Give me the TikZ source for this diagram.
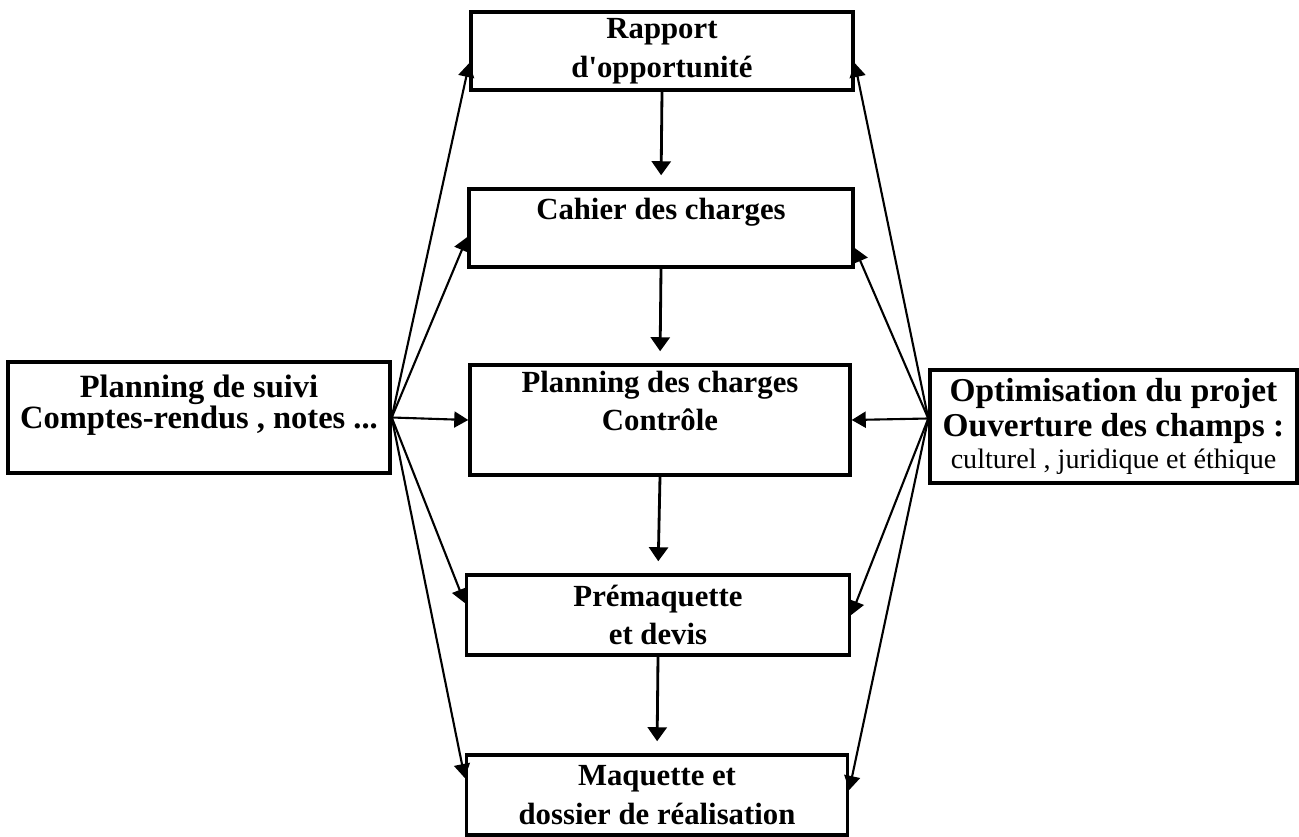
\documentclass[tikz,border=0pt]{standalone}
\usepackage{fontspec}
\setmainfont{Liberation Serif}
\usetikzlibrary{arrows.meta,calc}

\begin{document}
\begin{tikzpicture}[x=0.02cm,y=-0.02cm,
  box/.style={draw,line width=2pt,align=center,inner sep=1pt,font=\bfseries\fontsize{17.5}{22}\selectfont},
  down/.style={line width=1.6pt,-{Triangle[length=0.28cm,width=0.38cm]},shorten >=0.24cm},
  fan/.style={line width=1.2pt,-{Triangle[length=0.28cm,width=0.32cm]}}]
  \useasboundingbox (0,0) rectangle (1299,837);
  \node[box,minimum width=7.64cm,minimum height=1.56cm] (rap) at (662,51) {Rapport\\d\textquotesingle opportunité};
  \node[box,minimum width=7.68cm,minimum height=1.56cm] (cah) at (661,228) {Cahier des charges\\\mbox{}};
  \node[box,minimum width=7.6cm,minimum height=2.2cm] (pdc) at (660,420) {Planning des charges\\Contrôle\\\mbox{}};
  \node[box,minimum width=7.66cm,minimum height=1.6cm] (pre) at (658,615) {Prémaquette\\et devis};
  \node[box,minimum width=7.62cm,minimum height=1.6cm] (maq) at (657,795) {Maquette et\\dossier de réalisation};
  \node[box,minimum width=7.64cm,minimum height=2.22cm,font=\bfseries\fontsize{18.5}{18}\selectfont] (suivi) at (199,417.5)
    {Planning de suivi\\Comptes-rendus , notes ...\\\mbox{}};
  \node[box,minimum width=7.34cm,minimum height=2.26cm,font=\bfseries\fontsize{19}{20}\selectfont] (opt) at (1113.5,426.5)
    {Optimisation du projet\\Ouverture des champs :\\[-2pt]{\mdseries\fontsize{16}{17.6}\selectfont culturel , juridique et éthique}};
  \coordinate (rf) at ($(opt.west)+(0,-8)$);
  \draw[down] (rap.south) -- (cah.north);
  \draw[down] (cah.south) -- (pdc.north);
  \draw[down] (pdc.south) -- (pre.north);
  \draw[down] (pre.south) -- (maq.north);
  \draw[fan] (suivi.east) -- ($(rap.west)+(0,12)$);
  \draw[fan] (suivi.east) -- ($(cah.west)+(0,9)$);
  \draw[fan] (suivi.east) -- (pdc.west);
  \draw[fan] (suivi.east) -- ($(pre.west)+(0,-12)$);
  \draw[fan] (suivi.east) -- ($(maq.west)+(0,-17)$);
  \draw[fan] (rf) -- ($(rap.east)+(0,12)$);
  \draw[fan] (rf) -- ($(cah.east)+(0,20)$);
  \draw[fan] (rf) -- (pdc.east);
  \draw[fan] (rf) -- (pre.east);
  \draw[fan] (rf) -- ($(maq.east)+(0,-5)$);
\end{tikzpicture}
\end{document}
